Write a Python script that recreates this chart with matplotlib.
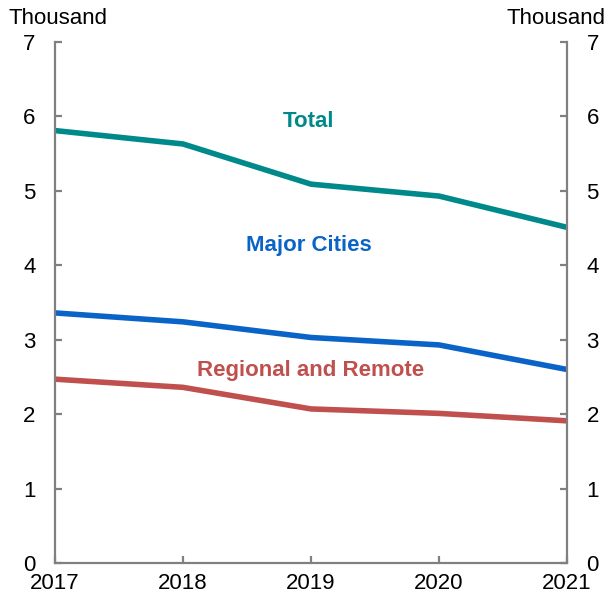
import matplotlib
matplotlib.use("Agg")
import matplotlib.pyplot as plt

years = [2017, 2018, 2019, 2020, 2021]
total = [5.81, 5.63, 5.09, 4.93, 4.51]
major_cities = [3.36, 3.24, 3.03, 2.93, 2.60]
regional_remote = [2.47, 2.36, 2.07, 2.01, 1.91]
yticks = [0, 1, 2, 3, 4, 5, 6, 7]
unit = "Thousand"

plt.rcParams['font.family'] = ['Liberation Sans', 'DejaVu Sans']

fig = plt.figure(figsize=(6.11, 6.01), dpi=100)
ax = fig.add_axes([55/611, 1-563/601, (567-55)/611, (563-42)/601])

c_total = "#00898A"
c_major = "#0A64C8"
c_reg = "#C0504D"
lw = 4.0
ax.plot(years, total, color=c_total, lw=lw, solid_capstyle='butt')
ax.plot(years, major_cities, color=c_major, lw=lw, solid_capstyle='butt')
ax.plot(years, regional_remote, color=c_reg, lw=lw, solid_capstyle='butt')

ax.set_xlim(years[0], years[-1])
ax.set_ylim(yticks[0], yticks[-1])
ax.set_xticks(years)
ax.set_xticklabels([str(y) for y in years])
ax.set_yticks(yticks)

spine_c = "#808080"
for s in ['left', 'right', 'bottom']:
    ax.spines[s].set_color(spine_c)
    ax.spines[s].set_linewidth(1.6)
ax.spines['top'].set_visible(False)

ax.tick_params(axis='both', direction='in', length=5, width=1.6, color=spine_c,
               labelsize=16, labelcolor='black')
ax.tick_params(axis='y', pad=14, left=True, right=True, labelleft=True, labelright=True)
ax.tick_params(axis='x', pad=7)

fig.text(58/611, 1-18/601, unit, ha='center', va='center', fontsize=16)
fig.text(556/611, 1-18/601, unit, ha='center', va='center', fontsize=16)

ax.text(2018.98, 5.93, "Total", color=c_total, fontsize=16, fontweight='bold', ha='center', va='center')
ax.text(2018.98, 4.26, "Major Cities", color=c_major, fontsize=16, fontweight='bold', ha='center', va='center')
ax.text(2019.0, 2.58, "Regional and Remote", color=c_reg, fontsize=16, fontweight='bold', ha='center', va='center')

fig.savefig("out.png", dpi=100)
